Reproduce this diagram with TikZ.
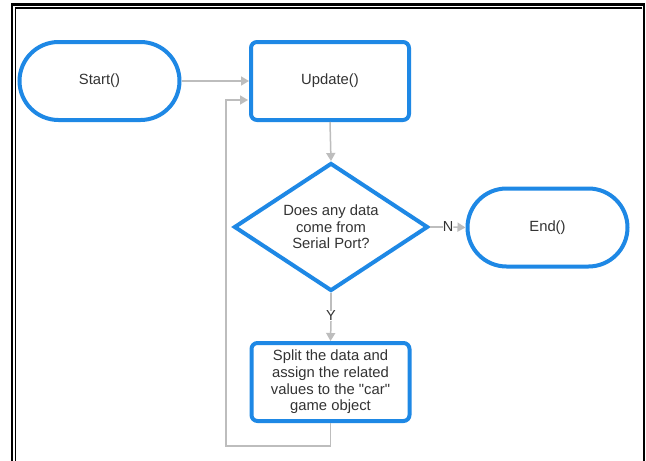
\documentclass[tikz,border=0pt]{standalone}
\usepackage{fontspec}
\setmainfont{Liberation Sans}[Ligatures=TeXOff]
\usetikzlibrary{arrows.meta,shapes.geometric}
\definecolor{fcblue}{HTML}{1E88E5}
\definecolor{fcgray}{HTML}{BDBDBD}
\definecolor{fctext}{HTML}{333333}
\begin{document}
\begin{tikzpicture}[x=1pt,y=-1pt,
  every node/.style={font=\fontsize{14.8pt}{16.7pt}\selectfont, text=fctext},
  term/.style={draw=fcblue, line width=4pt, rounded corners=39pt, minimum width=160pt, minimum height=78pt, inner sep=0pt},
  proc/.style={draw=fcblue, line width=4pt, rounded corners=6pt, minimum width=158pt, minimum height=78pt, align=center, inner sep=0pt},
  decis/.style={draw=fcblue, line width=4pt, diamond, minimum width=194pt, minimum height=128pt, aspect=1.5, align=center, inner sep=0pt},
  conn/.style={draw=fcgray, line width=1.5pt},
  arr/.style={conn, -{Triangle[length=8pt,width=9pt,fill=fcgray]}},
  lab/.style={inner sep=0pt, font=\fontsize{14.5pt}{16pt}\selectfont}
]
\useasboundingbox (0,0) rectangle (646,461);
\fill[white] (0,0) rectangle (646,461);
% frame
\draw[black, line width=2.5pt] (12,461) -- (12,4.5) -- (644,4.5) -- (644,461);
\draw[black, line width=1.3pt] (15.5,461) -- (15.5,8) -- (642,8);

\node[term] (start) at (99.5,81) {Start()};
\node[proc] (update) at (330,81) {Update()};
\node[decis] (dec) at (331,227) {Does any data\\come from\\Serial Port?};
\node[term] (end) at (547.5,227.5) {End()};
\node[proc] (split) at (330.5,382) {Split the data and\\assign the related\\values to the "car"\\game object};

\node[lab] (nlab) at (448,227) {N};
\node[lab, fill=white] (ylab) at (331,316) {Y};

\coordinate (loopA) at (330.5,446);
\coordinate (loopB) at (226,446);
\coordinate (loopC) at (226,100);
\coordinate (updIn) at (248,100);

\draw[arr] (start.east) -- (update.west);
\draw[arr] (update.south) -- (dec.north);
\draw[conn] (dec.east) -- (nlab.west);
\draw[arr] (nlab.east) -- (end.west);
\draw[conn] (dec.south) -- (ylab.north);
\draw[arr] (ylab.south) -- (split.north);
\draw[arr] (split.south) -- (loopA) -- (loopB) -- (loopC) -- (updIn);
\end{tikzpicture}
\end{document}
